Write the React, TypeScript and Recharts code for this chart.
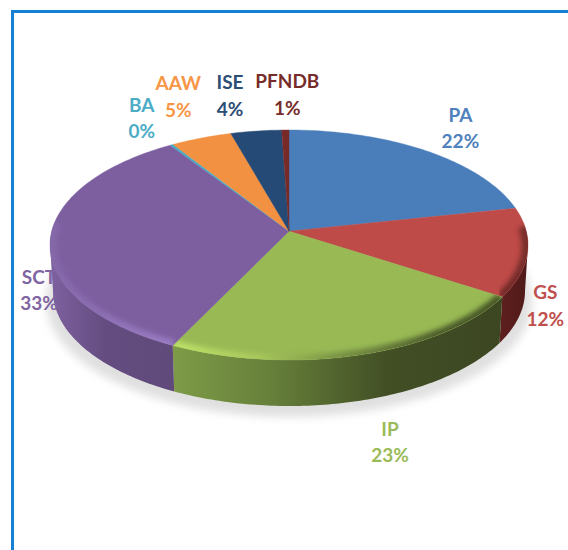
import { Pie, PieChart } from 'recharts';

const categories = ['PA', 'GS', 'IP', 'SCT', 'BA', 'AAW', 'ISE', 'PFNDB'];
const shares = [21.6, 12.4, 23.0, 33.4, 0.25, 4.6, 3.85, 0.55];
const faceColors = ['#4a7ebb', '#be4b48', '#98b954', '#7d5fa0', '#46aac5', '#f39142', '#254a75', '#772a28'];
const textColors = ['#4f81bd', '#c0504d', '#9bbb59', '#8064a2', '#4bacc6', '#f79646', '#2c4d75', '#772c2a'];
// label nudges from the rim point of each slice's middle
const labelNudges = [
  [32, -30],
  [18, 46],
  [31, 81],
  [-11, 38],
  [-30, -33],
  [-23, -48],
  [-26, -42],
  [2, -42],
];

const data = categories.map((name, i) => ({ name, value: shares[i], index: i }));

const CX = 289;
const CY = 245;
const RX = 239;
const RY = 115;
const PERSPECTIVE = 0.12;
const WALL_DY = 46;
const WALL_RX = 236;

const rad = (deg: number) => (deg * Math.PI) / 180;

// data angle on the flat circle -> angle on the tilted ellipse
function tilt(theta: number) {
  const c = Math.cos(rad(theta));
  const s = Math.sin(rad(theta));
  const d = 1 + PERSPECTIVE * c;
  const t = (Math.atan2((s * Math.sqrt(1 - PERSPECTIVE * PERSPECTIVE)) / d, (c + PERSPECTIVE) / d) * 180) / Math.PI;
  return t < -0.001 ? t + 360 : t;
}

const rim = (t: number, rx = RX, dy = 0) => ({
  x: CX + rx * Math.sin(rad(t)),
  y: CY + dy - RY * Math.cos(rad(t)),
});

const range = (p: any) => {
  const t1 = tilt(90 - p.startAngle);
  const t2 = p.endAngle === -270 ? 360 : tilt(90 - p.endAngle);
  return [t1, t2 < t1 ? 360 : t2];
};

function arcPoints(t1: number, t2: number, rx = RX, dy = 0) {
  const pts = [];
  const n = Math.max(2, Math.ceil(t2 - t1));
  for (let i = 0; i <= n; i++) pts.push(rim(t1 + ((t2 - t1) * i) / n, rx, dy));
  return pts;
}

const toPath = (pts: { x: number; y: number }[]) =>
  pts.map((p, i) => `${i ? 'L' : 'M'}${p.x.toFixed(2)} ${p.y.toFixed(2)}`).join(' ');

function WallSlice(props: any) {
  const [t1, t2] = range(props);
  const from = Math.max(t1, 90);
  const to = Math.min(t2, 270);
  if (to <= from) return <g />;
  const top = arcPoints(from, to);
  const bottom = arcPoints(from, to, WALL_RX, WALL_DY).reverse();
  return <path d={`${toPath(top)} ${toPath(bottom).replace('M', 'L')} Z`} fill={`url(#wall${props.index})`} />;
}

function FaceSlice(props: any) {
  const [t1, t2] = range(props);
  const apex = rim(0, 0, 0);
  apex.y = CY - RY * PERSPECTIVE;
  const d = `${toPath([apex, ...arcPoints(t1, t2)])} Z`;
  const from = Math.max(t1, 80);
  const to = Math.min(t2, 282);
  return (
    <g>
      <path d={d} fill={faceColors[props.index]} stroke={faceColors[props.index]} strokeWidth={0.4} />
      {to > from && (
        <g clipPath={`url(#clip${props.index})`}>
          <clipPath id={`clip${props.index}`}>
            <path d={d} />
          </clipPath>
          <path
            d={toPath(arcPoints(from, to, RX, 1))}
            fill="none"
            stroke={`url(#bevel${props.index})`}
            strokeWidth={13}
            filter="url(#soft)"
          />
        </g>
      )}
    </g>
  );
}

function SliceLabel(props: any) {
  const i = props.index;
  const [t1, t2] = range(props);
  const p = rim((t1 + t2) / 2);
  const x = p.x + labelNudges[i][0];
  const y = p.y + labelNudges[i][1];
  const pct = Math.round(shares[i]);
  return (
    <text
      x={x}
      y={y}
      textAnchor="middle"
      fill={textColors[i]}
      style={{ fontFamily: 'Lato', fontWeight: 700, fontSize: 19 }}
    >
      <tspan x={x} dy={0}>{categories[i]}</tspan>
      <tspan x={x} dy={26.5}>{pct}%</tspan>
    </text>
  );
}

export default function App() {
  return (
    <div style={{ position: 'absolute', left: 0, top: 0, width: 568, height: 550, background: '#fff', overflow: 'hidden' }}>
      <div
        style={{
          position: 'absolute',
          left: 11,
          top: 10,
          width: 600,
          height: 600,
          borderLeft: '3px solid #1580d4',
          borderTop: '3px solid #1580d4',
        }}
      />
      <div style={{ position: 'absolute', left: 0, top: 0 }}>
        <PieChart width={568} height={550} margin={{ top: 0, right: 0, bottom: 0, left: 0 }}>
          <defs>
            <filter id="soft" x="-10%" y="-30%" width="120%" height="160%">
              <feGaussianBlur stdDeviation="2.5" />
            </filter>
            <filter id="ground" x="-10%" y="-10%" width="120%" height="120%">
              <feGaussianBlur stdDeviation="4" />
            </filter>
            <linearGradient id="wall1" x1="0" y1="0" x2="1" y2="0">
              <stop offset="0" stopColor="#5e1f1e" />
              <stop offset="1" stopColor="#4f1a19" />
            </linearGradient>
            <linearGradient id="wall2" gradientUnits="userSpaceOnUse" x1="175" y1="0" x2="500" y2="0">
              <stop offset="0" stopColor="#7d9b47" />
              <stop offset="0.3" stopColor="#667f3a" />
              <stop offset="0.65" stopColor="#424f25" />
              <stop offset="1" stopColor="#3c4722" />
            </linearGradient>
            <linearGradient id="wall3" gradientUnits="userSpaceOnUse" x1="50" y1="0" x2="175" y2="0">
              <stop offset="0" stopColor="#7e60a0" />
              <stop offset="0.45" stopColor="#644c80" />
              <stop offset="1" stopColor="#5f4a7a" />
            </linearGradient>
            <linearGradient id="bevel1" gradientUnits="userSpaceOnUse" x1="490" y1="0" x2="528" y2="0">
              <stop offset="0" stopColor="#6e2827" />
              <stop offset="1" stopColor="#7a2e2c" />
            </linearGradient>
            <linearGradient id="bevel2" gradientUnits="userSpaceOnUse" x1="175" y1="0" x2="500" y2="0">
              <stop offset="0" stopColor="#bde067" />
              <stop offset="0.25" stopColor="#a9c95d" />
              <stop offset="0.5" stopColor="#7a9445" />
              <stop offset="0.8" stopColor="#4e5e2c" />
              <stop offset="1" stopColor="#495827" />
            </linearGradient>
            <linearGradient id="bevel3" gradientUnits="userSpaceOnUse" x1="50" y1="0" x2="175" y2="0">
              <stop offset="0" stopColor="#8467a8" />
              <stop offset="1" stopColor="#9a7cc4" />
            </linearGradient>
          </defs>
          <ellipse cx={CX} cy={CY + 56} rx={243} ry={116} fill="#e0e0e0" filter="url(#ground)" />
          <Pie
            data={data}
            dataKey="value"
            cx={CX}
            cy={CY}
            outerRadius={RX}
            startAngle={90}
            endAngle={-270}
            paddingAngle={0}
            isAnimationActive={false}
            label={SliceLabel}
            labelLine={false}
            shape={() => <g />}
          />
          <Pie
            data={data}
            dataKey="value"
            cx={CX}
            cy={CY}
            outerRadius={RX}
            startAngle={90}
            endAngle={-270}
            isAnimationActive={false}
            shape={WallSlice}
          />
          <Pie
            data={data}
            dataKey="value"
            cx={CX}
            cy={CY}
            outerRadius={RX}
            startAngle={90}
            endAngle={-270}
            isAnimationActive={false}
            shape={FaceSlice}
          />
        </PieChart>
      </div>
    </div>
  );
}
